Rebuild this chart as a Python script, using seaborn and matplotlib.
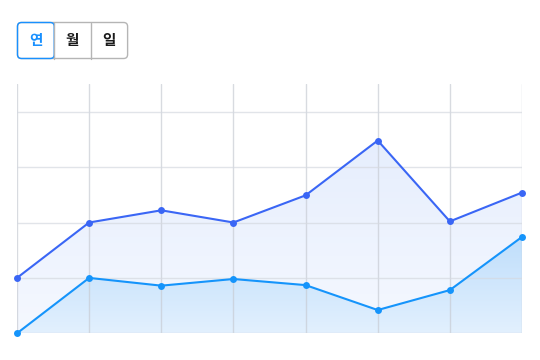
import numpy as np
import pandas as pd
import matplotlib
matplotlib.use("Agg")
import matplotlib.pyplot as plt
import seaborn as sns
from matplotlib.colors import LinearSegmentedColormap
from matplotlib.patches import FancyBboxPatch
import matplotlib.lines as mlines

# ---- data ----
positions = [0, 1, 2, 3, 4, 5, 6, 7]
series_upper = [100, 200, 222, 200, 249, 348, 202, 254]
series_lower = [0, 100, 86, 98, 87, 42, 78, 174]
series_names = ["A", "B"]
buttons = ["연", "월", "일"]
y_ticks = [0, 100, 200, 300, 400]

sns.set_theme(style="white")
plt.rcParams['font.family'] = ['Noto Sans CJK KR', 'DejaVu Sans']

W, H = 540, 360
fig = plt.figure(figsize=(W / 100, H / 100), dpi=100)
fig.patch.set_facecolor("white")

left, right, top, bottom = 17, 522, 84, 333.3
ax = fig.add_axes([left / W, 1 - bottom / H, (right - left) / W, (bottom - top) / H])

df = pd.DataFrame({
    "x": positions * 2,
    "value": series_upper + series_lower,
    "series": [series_names[0]] * len(positions) + [series_names[1]] * len(positions),
})

c_up = "#3a66f5"
c_lo = "#1594fb"


def grad_fill(ax, x, y, c_top, c_bot, z):
    poly = ax.fill_between(x, y, 0, color="none", lw=0)
    path = poly.get_paths()[0]
    cmap = LinearSegmentedColormap.from_list("g", [c_bot, c_top])
    grad = np.linspace(0, 1, 256).reshape(-1, 1)
    im = ax.imshow(grad, cmap=cmap, aspect="auto", origin="lower",
                   extent=[x[0], x[-1], 0, max(y)], zorder=z)
    im.set_clip_path(path, transform=ax.transData)


grad_fill(ax, positions, series_upper, "#e6eefd", "#f5f8ff", 1)
grad_fill(ax, positions, series_lower, "#bfdefb", "#e2f0fe", 1.5)

sns.lineplot(data=df, x="x", y="value", hue="series",
             palette={series_names[0]: c_up, series_names[1]: c_lo},
             marker="o", markersize=5, markeredgewidth=0, linewidth=1.5,
             legend=False, ax=ax, zorder=3)
for ln in ax.lines:
    ln.set_clip_on(False)

ax.set_xlim(0, 7)
ax.set_ylim(0, 450)
ax.set_yticks(y_ticks)
ax.set_xticks(positions)
ax.set_xticklabels([])
ax.set_yticklabels([])
ax.set_xlabel("")
ax.set_ylabel("")
ax.tick_params(length=0)
ax.grid(True, axis="y", color="#d5d9e0", lw=1, alpha=0.7, zorder=2)
ax.grid(True, axis="x", color="#c8ccd4", lw=1, alpha=0.7, zorder=2)
ax.set_axisbelow(False)
for s in ax.spines.values():
    s.set_visible(False)
ax.set_facecolor("white")

# ---- button group ----
ov = fig.add_axes([0, 0, 1, 1], zorder=5)
ov.set_xlim(0, W)
ov.set_ylim(H, 0)
ov.axis("off")
ov.patch.set_alpha(0)

bx0, by0, bw, bh = 17.5, 22.5, 36.7, 36
ov.add_patch(FancyBboxPatch((bx0, by0), bw * 3, bh,
                            boxstyle="round,pad=0,rounding_size=4",
                            fc="white", ec="#b5b5b5", lw=1))
for i in (1, 2):
    ov.add_line(mlines.Line2D([bx0 + bw * i] * 2, [by0, by0 + bh], color="#b5b5b5", lw=1))
ov.add_patch(FancyBboxPatch((bx0, by0), bw, bh,
                            boxstyle="round,pad=0,rounding_size=4",
                            fc="none", ec="#1890ff", lw=1))
for i, b in enumerate(buttons):
    ov.text(bx0 + bw * (i + 0.5), by0 + bh / 2, b, ha="center", va="center",
            fontsize=10.5, color="#1890ff" if i == 0 else "#1a1a1a",
            fontweight="bold")

fig.savefig("out.png", dpi=100)
